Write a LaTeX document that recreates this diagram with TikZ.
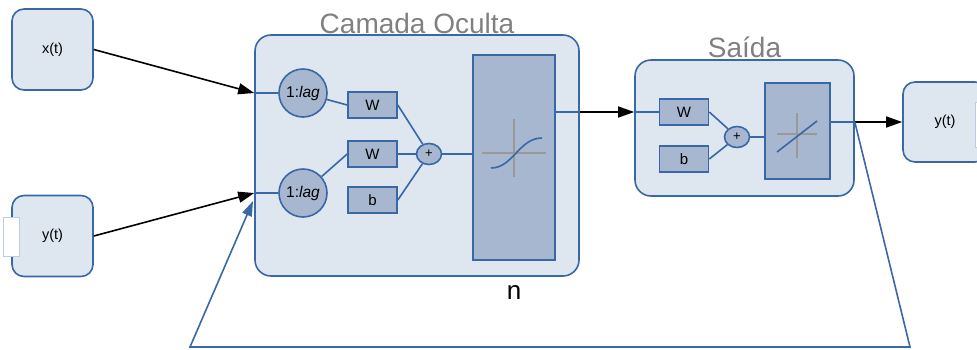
\documentclass[tikz,border=0pt]{standalone}
\usepackage{fontspec}
\setmainfont{Liberation Sans}
\usetikzlibrary{arrows.meta,shapes.geometric}

\definecolor{edgeblue}{HTML}{3A67A6}
\definecolor{panelfill}{HTML}{DEE6F0}
\definecolor{unitfill}{HTML}{A6B7CF}
\definecolor{titlegray}{HTML}{808080}
\definecolor{axisgray}{HTML}{999999}

\tikzset{
  port/.style={draw=edgeblue, fill=panelfill, line width=1.6pt, rounded corners=12pt,
    minimum width=81pt, minimum height=81pt, font=\fontsize{14.5}{16}\selectfont},
  stub/.style={draw=panelfill!80!edgeblue, fill=white, line width=1pt, inner sep=0pt},
  layer/.style={draw=edgeblue, fill=panelfill, line width=1.6pt, rounded corners=16pt, inner sep=0pt},
  delay/.style={circle, draw=edgeblue, fill=unitfill, line width=1.6pt, minimum size=48pt,
    inner sep=0pt, font=\fontsize{15.5}{17}\selectfont},
  weight/.style={draw=edgeblue, fill=unitfill, line width=1.6pt, minimum width=49pt,
    minimum height=26pt, inner sep=0pt, font=\fontsize{15}{17}\selectfont},
  sum/.style={ellipse, draw=edgeblue, fill=unitfill, line width=1.6pt, minimum width=25pt,
    minimum height=21pt, inner sep=0pt, font=\fontsize{13}{14}\selectfont},
  transfer/.style={draw=edgeblue, fill=unitfill, line width=1.6pt, inner sep=0pt},
  title/.style={text=titlegray, anchor=base, inner sep=0pt, font=\fontsize{28}{30}\selectfont},
  wire/.style={edgeblue, line width=1.6pt},
  axis/.style={axisgray, line width=1.5pt},
  signal/.style={black, line width=1.6pt, -{Triangle[length=16pt,width=11pt]}},
  feedback/.style={edgeblue, line width=1.6pt, -{Triangle[length=15pt,width=10pt]}}
}

\begin{document}
\begin{tikzpicture}[x=1pt,y=-1pt]
\clip (0,0) rectangle (977,349);
\node[port] (xin) at (52.5,49.5) {x(t)};
\node[port] (yin) at (52.5,236) {};
\node[stub, minimum width=16pt, minimum height=39pt] (yinport) at (11,236.5) {};
\node[font=\fontsize{14.5}{16}\selectfont] (yinlabel) at (yin) {y(t)};
\node[layer, minimum width=324pt, minimum height=241pt] (hid) at (417,155.5) {};
\node[title] (hidtitle) at (417,33) {Camada Oculta};
\node[layer, minimum width=219pt, minimum height=136pt] (out) at (744.5,128) {};
\node[title] (outtitle) at (744.5,57) {Saída};
\node[port, minimum width=84pt, minimum height=80pt] (yout) at (945,122) {y(t)};
\node[stub, minimum width=14pt, minimum height=45pt] (youtport) at (982,124.5) {};
\node[font=\fontsize{26}{28}\selectfont, anchor=base, inner sep=0pt] (nlabel) at (514,299) {n};

\node[delay] (lagA) at (303,93) {1:\textit{lag}};
\node[delay] (lagB) at (303,193) {1:\textit{lag}};
\node[weight] (wA) at (372.5,105) {W};
\node[weight] (wB) at (372.5,154) {W};
\node[weight] (bA) at (372.5,200) {b};
\node[sum] (sumA) at (429,154) {+};
\node[transfer, minimum width=82pt, minimum height=205pt] (tanh) at (514,157.5) {};

\node[weight] (wO) at (684,112) {W};
\node[weight] (bO) at (684,159) {b};
\node[sum] (sumB) at (737,137) {+};
\node[transfer, minimum width=65pt, minimum height=96pt] (lin) at (797.5,131) {};

\coordinate (fbA) at (910,347);
\coordinate (fbB) at (190,347);
\coordinate (fbin) at (253,201);

\draw[axis] (482,153) -- (546,153);
\draw[axis] (514,119) -- (514,177);
\draw[wire] (491,168) .. controls (513,168) and (519,138) .. (542,138);
\draw[axis] (777,134) -- (817,134);
\draw[axis] (797,113) -- (797,158);
\draw[wire] (777,152) -- (817,121);

\draw[signal] (xin.east) -- (hid.west |- lagA);
\draw[signal] (yin.east) -- (hid.west |- lagB);
\draw[wire] (hid.west |- lagA) -- (lagA);
\draw[wire] (hid.west |- lagB) -- (lagB);
\draw[wire] (lagA) -- (wA.west);
\draw[wire] (lagB) -- (wB.west);
\draw[wire] (wA.east) -- (sumA);
\draw[wire] (wB.east) -- (sumA);
\draw[wire] (bA.east) -- (sumA);
\draw[wire] (sumA) -- (tanh.west |- sumA);
\draw[wire] (tanh.east |- wO) -- (hid.east |- wO);
\draw[signal] (hid.east |- wO) -- (out.west |- wO);
\draw[wire] (out.west |- wO) -- (wO.west);
\draw[wire] (wO.east) -- (sumB);
\draw[wire] (bO.east) -- (sumB);
\draw[wire] (sumB) -- (lin.west |- sumB);
\draw[wire] (lin.east |- yout) -- (out.east |- yout);
\draw[signal] (out.east |- yout) -- (yout.west);
\draw[feedback] (out.east |- yout) -- (fbA) -- (fbB) -- (fbin);
\end{tikzpicture}
\end{document}
